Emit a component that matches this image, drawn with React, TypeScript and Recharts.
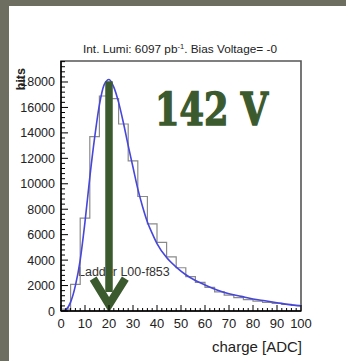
import React from "react";
import { ComposedChart, Line, XAxis, YAxis, ReferenceArea } from "recharts";

// histogram: bin lower edges (ADC) and counts
const binEdges = [0, 4, 8, 12, 16, 20, 24, 28, 32, 36, 40, 44, 48, 52, 56, 60, 64, 68, 72, 76, 80, 84, 88, 92, 96];
const binCounts = [150, 2100, 7300, 13700, 16900, 16700, 14700, 11800, 9000, 6850, 5400, 4250, 3400, 2700, 2250, 1850, 1500, 1250, 1050, 900, 780, 680, 600, 520, 450];

// landau fit curve
const fitX = [1, 2, 4, 6, 8, 10, 12, 14, 16, 18, 20, 22, 24, 26, 28, 30, 32, 34, 36, 38, 40, 44, 48, 52, 56, 60, 65, 70, 75, 80, 85, 90, 95, 100];
const fitY = [0, 80, 700, 2000, 4000, 7000, 10500, 13600, 16200, 17800, 18200, 17600, 16400, 14800, 13000, 11300, 9600, 8200, 7000, 6100, 5300, 4200, 3450, 2850, 2400, 2050, 1650, 1350, 1150, 950, 800, 650, 500, 400];

// arrow marking the MPV
const arrowShaftX = [20, 20];
const arrowShaftY = [18050, 1500];
const arrowHeadX = [13.4, 20, 26.8];
const arrowHeadY = [2550, 500, 2550];

const xLabels = [0, 10, 20, 30, 40, 50, 60, 70, 80, 90, 100];
const yLabels = [0, 2000, 4000, 6000, 8000, 10000, 12000, 14000, 16000, 18000];
const X_MAX = 100;
const Y_MAX = 19650;
const X_MINOR = 2;
const Y_MINOR = 400;

const histData = [{ x: 0, y: 0 }, ...binEdges.map((e, i) => ({ x: e, y: binCounts[i] })), { x: X_MAX, y: binCounts[binCounts.length - 1] }];
const fitData = fitX.map((x, i) => ({ x, y: fitY[i] }));
const shaftData = arrowShaftX.map((x, i) => ({ x, y: arrowShaftY[i] }));
const headData = arrowHeadX.map((x, i) => ({ x, y: arrowHeadY[i] }));

const xTicks: number[] = [];
for (let v = 0; v <= X_MAX; v += X_MINOR) xTicks.push(v);
const yTicks: number[] = [];
for (let v = 0; v <= 19600; v += Y_MINOR) yTicks.push(v);

const FONT = "'Liberation Sans', Arial, sans-serif";
const GREEN = "#3b5a2d";

function XTick(props: any) {
  const { x, y, payload } = props;
  const major = xLabels.includes(payload.value);
  return (
    <g>
      <line x1={x} x2={x} y1={y} y2={y - (major ? 6 : 3)} stroke="#000" strokeWidth={1} />
      {major && (
        <text x={x} y={y + 17} textAnchor="middle" fontSize={13} fontFamily={FONT} fill="#222">
          {payload.value}
        </text>
      )}
    </g>
  );
}

function YTick(props: any) {
  const { x, y, payload } = props;
  const major = yLabels.includes(payload.value);
  return (
    <g>
      <line x1={x} x2={x + (major ? 7 : 4)} y1={y} y2={y} stroke="#000" strokeWidth={1} />
      {major && (
        <text x={x - 6} y={y + 4.5} textAnchor="end" fontSize={12.5} fontFamily={FONT} fill="#222">
          {payload.value}
        </text>
      )}
    </g>
  );
}

export default function App() {
  return (
    <div style={{ position: "absolute", left: 0, top: 0, width: 346, height: 361, background: "#6e6e60" }}>
      <div style={{ position: "absolute", left: 9, top: 6, width: 337, height: 355, background: "#fff" }} />
      <svg width={346} height={361} style={{ position: "absolute", left: 0, top: 0 }}>
        <text x={180} y={53} textAnchor="middle" fontSize={11.8} fontFamily={FONT} fill="#222">
          <tspan>Int. Lumi: 6097 pb</tspan>
          <tspan dy={-4} fontSize={7.5}>-1</tspan>
          <tspan dy={4}>. Bias Voltage= -0</tspan>
        </text>
        <text x={78} y={276} fontSize={12.5} fontFamily={FONT} fill="#333">Ladder L00-f853</text>
        <text x={302} y={352} textAnchor="end" fontSize={15} fontFamily={FONT} fill="#222">charge [ADC]</text>
        <text
          x={155}
          y={125}
          fontSize={44}
          fontWeight="bold"
          fontFamily="'DejaVu Serif', serif"
          fill={GREEN}
          stroke={GREEN}
          strokeWidth={1.4}
          textLength={113}
          lengthAdjust="spacingAndGlyphs"
        >
          142 V
        </text>
      </svg>
      <div style={{ position: "absolute", left: 0, top: 0 }}>
        <ComposedChart width={346} height={361} margin={{ top: 61, right: 45, bottom: 20, left: 21 }}>
          <XAxis
            dataKey="x"
            type="number"
            domain={[0, X_MAX]}
            ticks={xTicks}
            interval={0}
            allowDataOverflow
            height={30}
            tickSize={0}
            tickMargin={0}
            tickLine={false}
            tick={<XTick />}
            axisLine={{ stroke: "#000", strokeWidth: 1.4 }}
          />
          <YAxis
            type="number"
            domain={[0, Y_MAX]}
            ticks={yTicks}
            interval={0}
            allowDataOverflow
            width={40}
            tickSize={0}
            tickMargin={0}
            tickLine={false}
            tick={<YTick />}
            axisLine={{ stroke: "#000", strokeWidth: 1.4 }}
          />
          <ReferenceArea x1={0} x2={X_MAX} y1={0} y2={Y_MAX} fill="none" stroke="#555" strokeWidth={1.6} ifOverflow="visible" />
          <Line data={histData} dataKey="y" type="stepAfter" stroke="#8a8a8a" strokeWidth={1.2} dot={false} activeDot={false} isAnimationActive={false} />
          <Line data={fitData} dataKey="y" type="monotone" stroke="#4646dc" strokeWidth={1.6} dot={false} activeDot={false} isAnimationActive={false} />
          <Line data={shaftData} dataKey="y" type="linear" stroke={GREEN} strokeWidth={7.5} strokeLinecap="butt" dot={false} activeDot={false} isAnimationActive={false} />
          <Line data={headData} dataKey="y" type="linear" stroke={GREEN} strokeWidth={8} strokeLinejoin="miter" strokeLinecap="butt" dot={false} activeDot={false} isAnimationActive={false} />
        </ComposedChart>
      </div>
      <svg width={346} height={361} style={{ position: "absolute", left: 0, top: 0, pointerEvents: "none" }}>
        <text transform="translate(25,68) rotate(-90)" textAnchor="end" fontSize={12.5} fontWeight="bold" fontFamily={FONT} fill="#222">bits</text>
      </svg>
    </div>
  );
}
